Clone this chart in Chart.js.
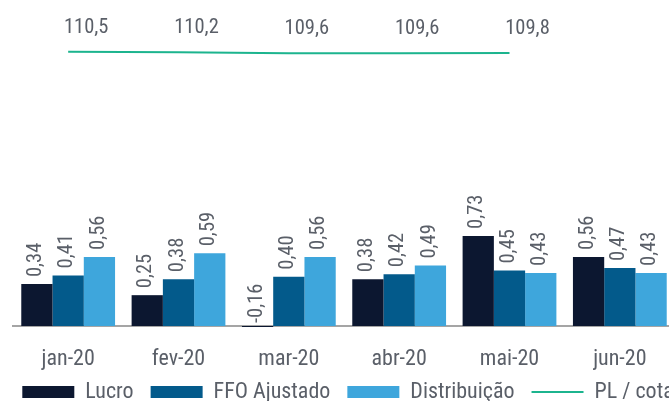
<!DOCTYPE html>
<html><head><meta charset="utf-8">
<script src="https://cdn.jsdelivr.net/npm/chart.js@4/dist/chart.umd.min.js"></script>
<style>
html,body{margin:0;padding:0;background:#fff;overflow:hidden;}
#wrap{position:relative;width:696px;height:421px;}
</style></head><body>
<div id="wrap"><canvas id="c"></canvas></div>
<script>
const categories = ['jan-20','fev-20','mar-20','abr-20','mai-20','jun-20'];
const lucro = [0.34, 0.25, -0.16, 0.38, 0.73, 0.56];
const ffoAjustado = [0.41, 0.38, 0.40, 0.42, 0.45, 0.47];
const distribuicao = [0.56, 0.59, 0.56, 0.49, 0.43, 0.43];
const plCota = [110.5, 110.2, 109.6, 109.6, 109.8, null];
const seriesNames = ['Lucro', 'FFO Ajustado', 'Distribuição', 'PL / cota'];

const FONT = '"Roboto Condensed", "DejaVu Sans Condensed", sans-serif';
const TEXT = '#5a5f68';

const labelPlugin = {
  id: 'valueLabels',
  afterLayout(chart) {
    if (chart.legend) { chart.legend.top -= 8; chart.legend.bottom -= 8; }
  },
  afterDatasetsDraw(chart) {
    const ctx = chart.ctx;
    const base = chart.scales.y.getPixelForValue(0);
    chart.data.datasets.forEach((ds, i) => {
      const meta = chart.getDatasetMeta(i);
      if (meta.hidden) return;
      meta.data.forEach((el, j) => {
        const v = ds.data[j];
        if (v == null) return;
        ctx.save();
        ctx.fillStyle = TEXT;
        ctx.font = '20.5px ' + FONT;
        if (ds.type === 'line') {
          ctx.textAlign = 'center';
          ctx.textBaseline = 'middle';
          ctx.fillText(v.toFixed(1).replace('.', ','), el.x + 18, el.y - 24);
        } else {
          const start = v < 0 ? base - 3 : el.y - 7;
          ctx.translate(el.x - 1, start);
          ctx.rotate(-Math.PI / 2);
          ctx.textAlign = 'left';
          ctx.textBaseline = 'middle';
          ctx.fillText(v.toFixed(2).replace('.', ','), 0, 0);
        }
        ctx.restore();
      });
    });
  }
};

new Chart(document.getElementById('c'), {
  type: 'bar',
  data: {
    labels: categories,
    datasets: [
      { label: seriesNames[0], data: lucro, backgroundColor: '#0c1730', borderWidth: 0, yAxisID: 'y',
        categoryPercentage: 0.85, barPercentage: 1.0, clip: {left: false, top: false, right: false, bottom: 1}, pointStyle: 'rect' },
      { label: seriesNames[1], data: ffoAjustado, backgroundColor: '#035a8b', borderWidth: 0, yAxisID: 'y',
        categoryPercentage: 0.85, barPercentage: 1.0, pointStyle: 'rect' },
      { label: seriesNames[2], data: distribuicao, backgroundColor: '#3ea6dc', borderWidth: 0, yAxisID: 'y',
        categoryPercentage: 0.85, barPercentage: 1.0, pointStyle: 'rect' },
      { type: 'line', label: seriesNames[3], data: plCota, borderColor: '#1cb48e', backgroundColor: '#1cb48e',
        borderWidth: 2, pointRadius: 0, tension: 0, yAxisID: 'y2', pointStyle: 'line', spanGaps: false }
    ]
  },
  options: {
    responsive: true,
    maintainAspectRatio: false,
    animation: false,
    layout: { padding: 0 },
    scales: {
      x: {
        grid: { display: false },
        border: { display: true, color: '#a5a5a5', width: 2 },
        ticks: { color: TEXT, font: { family: FONT, size: 22 }, padding: 12, maxRotation: 0, autoSkip: false },
        afterFit(scale) { scale.height = 46; }
      },
      y: { display: true, position: 'left', min: 0, max: 2.644,
           ticks: { display: false }, grid: { display: false }, border: { display: false },
           afterFit(scale) { scale.width = 13; } },
      y2: { display: true, position: 'right', min: -50, max: 140.75,
            ticks: { display: false }, grid: { display: false }, border: { display: false },
            afterFit(scale) { scale.width = 21; } }
    },
    plugins: {
      legend: {
        position: 'bottom',
        labels: {
          usePointStyle: true,
          pointStyleWidth: 52,
          boxHeight: 12,
          padding: 17,
          color: TEXT,
          font: { family: FONT, size: 22 }
        }
      },
      tooltip: { enabled: false }
    }
  },
  plugins: [labelPlugin]
});
</script>
</body></html>
